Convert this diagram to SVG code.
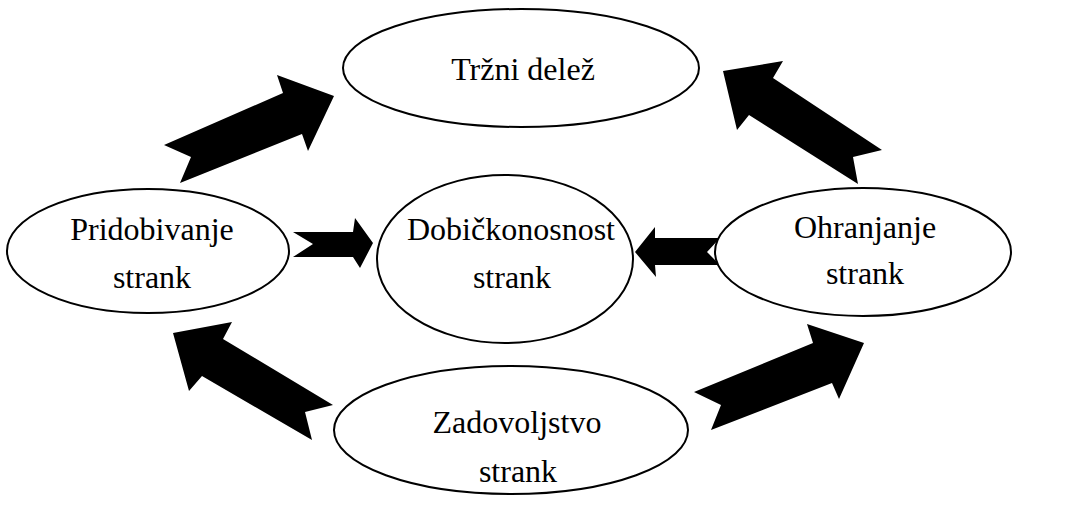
<svg xmlns="http://www.w3.org/2000/svg" width="1083" height="525" viewBox="0 0 1083 525">
<style>
.node ellipse{fill:#fff;stroke:#000;stroke-width:2}
.node text{font-family:"Liberation Serif","Times New Roman",serif;font-size:32px;fill:#000;text-anchor:middle}
.conn polygon{fill:#000;stroke:none}
</style>
<rect width="1083" height="525" fill="#fff"/>
<g id="connectors" class="conn">
<polygon id="a-prid-trzni" points="164,145 283,93 277,75 334,96 308,151 302,134 180,183 191,157"/>
<polygon id="a-ohr-trzni" points="723,71 783,61 773,78 882,150 853,157 858,184 749,115 737,130"/>
<polygon id="a-prid-dob" points="293,232 353,232 355,218 373,243 360,268 353,257 293,257 313,244"/>
<polygon id="a-ohr-dob" points="635,252 655,227 655,238 720,238 707,252 720,265 655,265 656,277"/>
<polygon id="a-zad-prid" points="173,333 232,322 223,339 333,405 305,412 312,440 202,376 189,391"/>
<polygon id="a-zad-ohr" points="694,392 813,343 807,324 864,343 839,399 832,383 711,430 721,405"/>
</g>
<g id="trzni-delez" class="node">
<ellipse cx="521" cy="68" rx="178" ry="59"/>
<text x="523" y="80">Tržni delež</text>
</g>
<g id="pridobivanje" class="node">
<ellipse cx="148" cy="251" rx="141" ry="62"/>
<text x="152" y="240">Pridobivanje</text>
<text x="152" y="288">strank</text>
</g>
<g id="dobickonosnost" class="node">
<ellipse cx="505" cy="259" rx="128" ry="84"/>
<text x="511" y="240">Dobičkonosnost</text>
<text x="512" y="288">strank</text>
</g>
<g id="ohranjanje" class="node">
<ellipse cx="863" cy="252" rx="148" ry="64"/>
<text x="865" y="238">Ohranjanje</text>
<text x="865" y="284">strank</text>
</g>
<g id="zadovoljstvo" class="node">
<ellipse cx="511" cy="430" rx="177" ry="64"/>
<text x="517" y="433">Zadovoljstvo</text>
<text x="518" y="482">strank</text>
</g>
</svg>
